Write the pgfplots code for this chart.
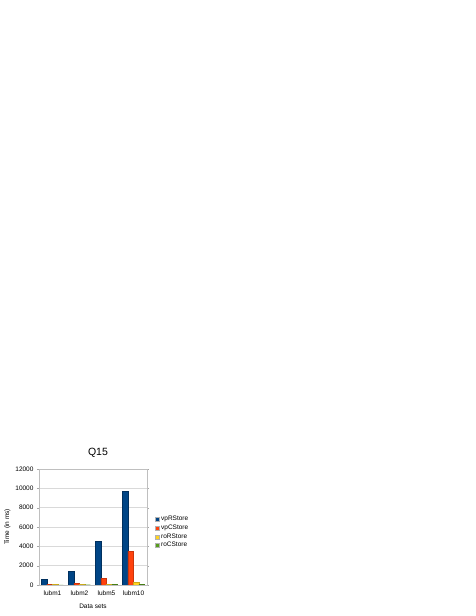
\documentclass[border=0pt]{standalone}
\usepackage{fontspec}
\setmainfont{Liberation Sans}
\usepackage{pgfplots}
\pgfplotsset{compat=1.18}
\definecolor{cBlue}{HTML}{004586}
\definecolor{cOrange}{HTML}{FF420E}
\definecolor{cYellow}{HTML}{FFD320}
\definecolor{cGreen}{HTML}{579D1C}
\begin{document}
\begin{tikzpicture}[x=1pt,y=1pt]
\path[use as bounding box, fill=white] (0,0) rectangle (476,616);
\begin{axis}[
    at={(39pt,31pt)}, anchor=south west,
    scale only axis, width=108pt, height=116pt,
    ybar=0pt, bar width=5.5pt,
    xmin=-0.5, xmax=3.5, ymin=0, ymax=12000,
    xtick={0,1,2,3}, xticklabels={lubm1,lubm2,lubm5,lubm10},
    major x tick style={draw=none},
    extra x ticks={-0.5,0.5,1.5,2.5,3.5}, extra x tick labels={},
    extra x tick style={tick style={draw=gray!70}, major tick length=3pt, tick align=outside},
    ytick={0,2000,...,12000},
    scaled y ticks=false,
    /pgf/number format/assume math mode=true,
    /pgf/number format/1000 sep={},
    ymajorgrids, grid style={gray!30},
    tick align=outside, major tick length=2pt,
    tick style={gray!70},
    axis line style={gray!50},
    ticklabel style={font=\fontsize{6.5}{7}\selectfont},
    xlabel={Data sets}, ylabel={Time (in ms)},
    label style={font=\fontsize{6.5}{7}\selectfont},
    xlabel style={yshift=3pt},
    ylabel style={yshift=-2pt},
    title={Q15}, title style={font=\fontsize{10.5}{12}\selectfont, yshift=1.5pt, xshift=5pt},
    legend style={at={(1.07,0.61)}, anchor=north west, draw=none, fill=none,
        font=\fontsize{6.5}{7}\selectfont, row sep=-1.4pt,
        inner sep=0pt},
    legend image code/.code={\draw[#1, draw=gray!60] (0pt,-2pt) rectangle (4pt,2pt);},
    legend cell align=left,
]
\addplot[fill=cBlue, draw=cBlue!70!black] coordinates {(0,580) (1,1400) (2,4500) (3,9700)};
\addplot[fill=cOrange, draw=cOrange!80!black] coordinates {(0,100) (1,180) (2,720) (3,3500)};
\addplot[fill=cYellow, draw=cYellow!80!black] coordinates {(0,50) (1,80) (2,100) (3,300)};
\addplot[fill=cGreen, draw=cGreen!80!black] coordinates {(0,20) (1,30) (2,50) (3,80)};
\legend{vpRStore, vpCStore, roRStore, roCStore}
\end{axis}
\end{tikzpicture}
\end{document}
